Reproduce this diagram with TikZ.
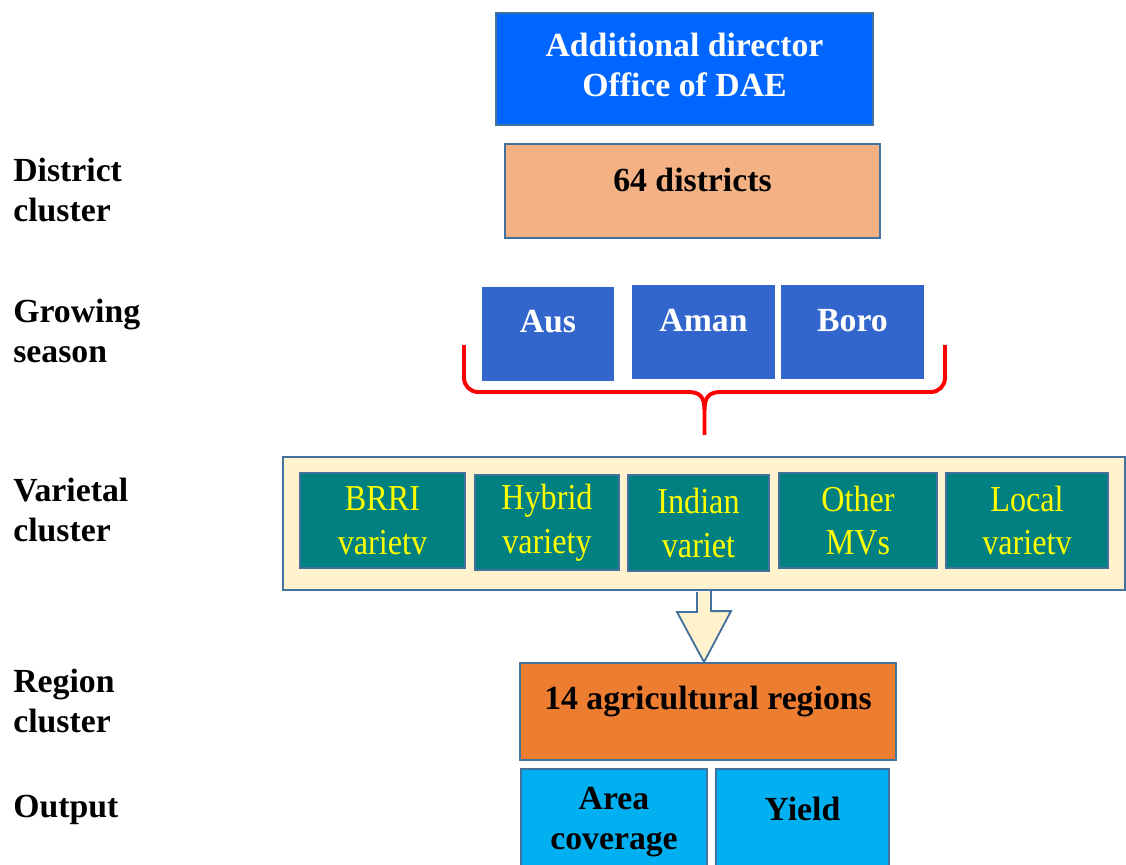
\documentclass[tikz,border=0pt]{standalone}
\usepackage{fontspec}
\setmainfont{Liberation Serif}
\newfontfamily\narrowserif[FakeStretch=0.88]{Liberation Serif}
\usetikzlibrary{calc}

\definecolor{edgeblue}{RGB}{65,113,156}
\definecolor{daeblue}{RGB}{0,102,255}
\definecolor{districtpeach}{RGB}{244,177,131}
\definecolor{seasonblue}{RGB}{51,102,204}
\definecolor{creamfill}{RGB}{255,242,204}
\definecolor{tealbox}{RGB}{0,128,128}
\definecolor{varyellow}{RGB}{255,255,0}
\definecolor{regionorange}{RGB}{237,125,49}
\definecolor{outputcyan}{RGB}{0,176,240}

\begin{document}
\begin{tikzpicture}[
    x=0.025cm, y=-0.025cm,
    every node/.style={align=center},
    size/.style 2 args={minimum width=#1*0.025cm, minimum height=#2*0.025cm},
    box/.style={draw=edgeblue, line width=1.3pt, inner sep=0pt},
    boxtext/.style={inner sep=0pt, font=\fontsize{24}{29}\selectfont\bfseries},
    rowlabel/.style={anchor=west, align=left, inner sep=0pt, font=\fontsize{24}{29}\selectfont\bfseries},
    season/.style={fill=seasonblue, inner sep=0pt, size={#1}{94}},
    variety/.style={box, fill=tealbox, text=varyellow, font=\narrowserif\fontsize{26}{31}\selectfont},
    output/.style={box, fill=outputcyan},
    brace/.style={draw=red, line width=2.8pt},
    blockarrow/.style={draw=edgeblue, fill=creamfill, line width=1.3pt, line join=miter}
]
    \useasboundingbox (0,0) rectangle (1126,865);

    % row labels
    \node (lblDistrict) [rowlabel] at (13,190) {District\\cluster};
    \node (lblSeason) [rowlabel] at (13,331) {Growing\\season};
    \node (lblVariety) [rowlabel] at (13,510) {Varietal\\cluster};
    \node (lblRegion) [rowlabel] at (13,701) {Region\\cluster};
    \node (lblOutput) [rowlabel] at (13,810) {Output};

    % hierarchy boxes
    \node (dae) [box, fill=daeblue, size={377}{112}] at (684.5,69) {};
    \node (daeText) [boxtext, text=white] at (684.5,65) {Additional director\\Office of DAE};

    \node (district) [box, fill=districtpeach, size={375}{94}] at (692.5,191) {};
    \node (districtText) [boxtext] at (692.5,180) {64 districts};

    \node (aus) [season=132] at (548,334) {};
    \node (aman) [season=143] at (703.5,332) {};
    \node (boro) [season=143] at (852.5,332) {};
    \node (ausText) [boxtext, text=white] at (548,322) {Aus};
    \node (amanText) [boxtext, text=white] at (703.5,321) {Aman};
    \node (boroText) [boxtext, text=white] at (852.5,321) {Boro};

    % brace under the seasons
    \draw [brace, rounded corners=10] (464,345) |- (690,392);
    \draw [brace, rounded corners=10] (945,345) |- (719,392);
    \draw [brace] (688,392) .. controls (700,392) and (704.5,397) .. (704.5,410) -- (704.5,435);
    \draw [brace] (721,392) .. controls (709,392) and (704.5,397) .. (704.5,410);

    % varietal cluster
    \node (vari) [box, fill=creamfill, size={842}{133}] at (704,523.5) {};
    \node (brri) [variety, size={165}{95}] at (382.5,520.5) {BRRI\\varietv};
    \node (hybrid) [variety, size={144}{95}] at (547,522.5) {Hybrid\\variety};
    \node (indian) [variety, size={141}{96}] at (698.5,523) {Indian\\variet};
    \node (other) [variety, size={158}{95}] at (858,520.5) {Other\\MVs};
    \node (local) [variety, size={162}{95}] at (1027,520.5) {Local\\varietv};

    \node (region) [box, fill=regionorange, size={376}{97}] at (708,711.5) {};
    \node (regionText) [boxtext] at (708,702) {14 agricultural regions};

    \coordinate (tip) at (vari.south |- region.north);
    \filldraw [blockarrow] ($(vari.south)+(-7,1)$) -- ++(0,20) -- ++(-20,0) -- (tip)
        -- ($(tip)+(27,-51)$) -- ++(-20,0) -- ++(0,-20);

    % outputs
    \node (area) [output, size={186}{110}] at (614,824) {};
    \node (yield) [output, size={173}{110}] at (802.5,824) {};
    \node (areaText) [boxtext] at (614,822) {Area\\coverage};
    \node (yieldText) [boxtext] at (802.5,809) {Yield};
\end{tikzpicture}
\end{document}
